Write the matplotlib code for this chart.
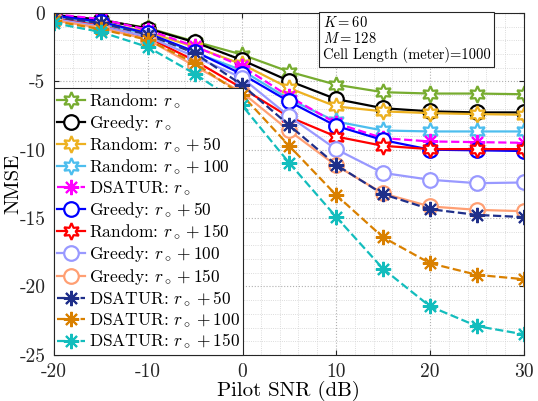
import matplotlib
matplotlib.use("Agg")
import matplotlib.pyplot as plt
from matplotlib.ticker import MultipleLocator

plt.rcParams.update({
    "font.family": "serif",
    "font.serif": ["cmr10", "DejaVu Serif"],
    "mathtext.fontset": "cm",
    "axes.unicode_minus": False,
    "axes.formatter.use_mathtext": False,
})

snr = [-20, -15, -10, -5, 0, 5, 10, 15, 20, 25, 30]

rand_r0 = [-0.2, -0.55, -1.1, -2.1, -3.05, -4.3, -5.25, -5.8, -5.9, -5.9, -5.95]
greedy_r0 = [-0.15, -0.5, -1.15, -2.15, -3.45, -4.97, -6.3, -6.97, -7.2, -7.28, -7.28]
rand_r50 = [-0.3, -0.7, -1.4, -2.5, -3.75, -5.5, -6.84, -7.2, -7.33, -7.4, -7.45]
rand_r100 = [-0.35, -0.8, -1.55, -2.9, -4.2, -6.3, -7.94, -8.6, -8.67, -8.67, -8.67]
dsatur_r0 = [-0.1, -0.45, -1.25, -2.45, -3.9, -6.1, -8.06, -9.16, -9.4, -9.45, -9.5]
greedy_r50 = [-0.2, -0.65, -1.5, -2.83, -4.48, -6.48, -8.26, -9.3, -10.0, -10.05, -10.1]
rand_r150 = [-0.4, -0.95, -1.8, -3.5, -5.5, -7.6, -9.04, -9.72, -9.96, -9.96, -9.96]
greedy_r100 = [-0.45, -1.0, -1.75, -3.2, -4.75, -7.55, -9.96, -11.7, -12.2, -12.45, -12.4]
greedy_r150 = [-0.55, -1.1, -1.95, -3.9, -5.8, -8.6, -11.15, -13.2, -14.15, -14.4, -14.5]
dsatur_r50 = [-0.3, -0.75, -1.6, -2.95, -5.26, -8.2, -11.1, -13.25, -14.35, -14.77, -14.93]
dsatur_r100 = [-0.6, -1.2, -1.97, -3.68, -6.0, -9.7, -13.3, -16.4, -18.3, -19.15, -19.47]
dsatur_r150 = [-0.75, -1.4, -2.5, -4.46, -6.75, -10.94, -14.9, -18.7, -21.45, -22.9, -23.5]

HEX = (6, 1, 0)
AST = (8, 2, 0)

# (values, label, color, marker, linestyle)
SERIES = [
    (rand_r0, r"Random: $r_\circ$", "#77AC30", HEX, "-"),
    (greedy_r0, r"Greedy: $r_\circ$", "black", "o", "-"),
    (rand_r50, r"Random: $r_\circ+50$", "#EDB120", HEX, "-"),
    (rand_r100, r"Random: $r_\circ+100$", "#4DBEEE", HEX, "-"),
    (dsatur_r0, r"DSATUR: $r_\circ$", "#FF00FF", AST, "--"),
    (greedy_r50, r"Greedy: $r_\circ+50$", "#0000FF", "o", "-"),
    (rand_r150, r"Random: $r_\circ+150$", "#FF0000", HEX, "-"),
    (greedy_r100, r"Greedy: $r_\circ+100$", "#9999FF", "o", "-"),
    (greedy_r150, r"Greedy: $r_\circ+150$", "#FF9F73", "o", "-"),
    (dsatur_r50, r"DSATUR: $r_\circ+50$", "#1F2F8A", AST, "--"),
    (dsatur_r100, r"DSATUR: $r_\circ+100$", "#D98000", AST, "--"),
    (dsatur_r150, r"DSATUR: $r_\circ+150$", "#13BDBD", AST, "--"),
]

fig = plt.figure(figsize=(5.38, 4.01), dpi=100)
ax = fig.add_axes([0.100, 0.115, 0.874, 0.853])

for vals, label, color, marker, ls in SERIES:
    if marker == AST:
        ax.plot(snr, vals, ls, color=color, marker=marker, markersize=11,
                markeredgewidth=1.5, linewidth=1.6, label=label)
    else:
        ms = 12 if marker == HEX else 10.5
        ax.plot(snr, vals, ls, color=color, marker=marker, markersize=ms,
                markerfacecolor="white", markeredgewidth=1.6, linewidth=1.6,
                label=label)

ax.set_xlim(-20, 30)
ax.set_ylim(-25, 0)
ax.xaxis.set_major_locator(MultipleLocator(10))
ax.xaxis.set_minor_locator(MultipleLocator(2))
ax.yaxis.set_major_locator(MultipleLocator(5))
ax.yaxis.set_minor_locator(MultipleLocator(1))
ax.grid(True, which="major", linestyle=":", color="#b0b0b0", linewidth=0.8)
ax.grid(True, which="minor", linestyle=":", color="#d0d0d0", linewidth=0.6)
ax.tick_params(which="both", direction="in", top=True, right=True,
               labelsize=14, colors="#262626")
ax.tick_params(axis="x", pad=6)
ax.tick_params(axis="y", pad=6)
ax.tick_params(which="minor", length=0)
for s in ax.spines.values():
    s.set_color("#262626")
    s.set_linewidth(0.8)

ax.set_xlabel("Pilot SNR (dB)", fontsize=15, labelpad=0)
ax.set_ylabel("NMSE", fontsize=15, labelpad=-2)

leg = ax.legend(loc="lower left", fontsize=12.5, borderaxespad=0,
                handlelength=1.6, handletextpad=0.2, labelspacing=0.14,
                borderpad=0.2, fancybox=False, framealpha=1,
                edgecolor="#262626")
leg.get_frame().set_linewidth(0.8)

ax.text(0.572, 0.995,
        "$K=60$\n$M=128$\nCell Length (meter)=1000",
        transform=ax.transAxes, fontsize=10.5, va="top", ha="left",
        linespacing=1.1,
        bbox=dict(boxstyle="square,pad=0.25", facecolor="white",
                  edgecolor="#262626", linewidth=0.8))

fig.savefig("out.png", dpi=100)
